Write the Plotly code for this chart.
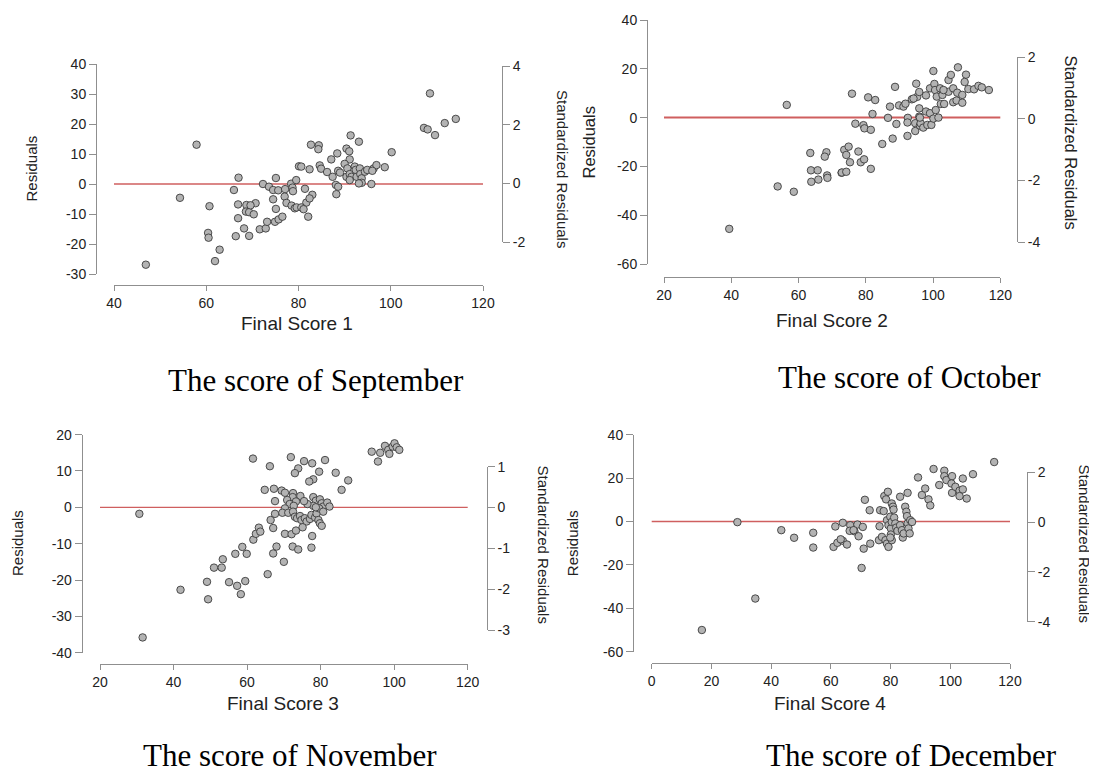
import plotly.graph_objects as go

# page body has an 8px margin: the figure is sized to fit and coordinates are shifted
PAGE_OFF = 8
W, H = 1097 - PAGE_OFF, 772 - PAGE_OFF

# ---------------- data ----------------
sep_x = [46.9, 57.9, 54.3, 60.7, 60.4, 60.5, 62.9, 61.9, 67.0, 66.0, 66.9, 66.9, 66.4, 68.2, 69.3,
         68.7, 68.6, 69.3, 70.7, 70.3, 69.6, 71.6, 72.9, 73.2, 72.3, 73.6, 74.5, 75.1, 74.5, 75.1,
         74.9, 75.7, 76.5, 75.6, 77.1, 77.0, 77.4, 78.5, 78.4, 78.7, 78.8, 79.2, 79.6, 79.5, 80.1,
         81.7, 82.1, 81.4, 80.6, 81.1, 83.0, 82.4, 80.6, 82.4, 82.7, 84.4, 84.3, 84.6, 84.9, 86.2,
         87.1, 87.4, 88.4, 88.6, 89.0, 88.1, 88.6, 88.2, 91.3, 90.4, 91.0, 91.1, 90.0, 90.6, 90.4,
         91.1, 91.5, 91.1, 92.2, 92.4, 92.6, 93.3, 93.4, 93.7, 93.7, 93.1, 94.4, 94.9, 95.8, 96.3,
         96.9, 96.0, 98.7, 93.1, 100.2, 107.2, 108.0, 108.5, 109.6, 111.7, 114.1]
sep_y = [-26.9, 13.1, -4.6, -7.4, -16.3, -17.9, -21.9, -25.7, 2.1, -2.0, -6.8, -11.4, -17.4, -14.8, -17.3,
         -7.0, -9.2, -9.4, -6.4, -10.1, -7.1, -15.1, -14.8, -12.6, 0.0, -0.9, -2.0, 2.0, -5.1, -8.3,
         -12.6, -11.8, -10.9, -2.1, -1.7, -4.2, -6.3, -7.2, 0.1, -1.2, -2.4, -8.1, -7.8, 1.3, 5.9,
         -6.2, -10.9, -1.6, -7.8, -8.4, -3.6, -4.8, 5.8, 4.9, 13.1, 12.9, 11.6, 6.2, 5.1, 4.0,
         8.2, 2.4, 10.2, 4.4, 3.8, -0.3, -0.9, -3.4, 16.2, 11.8, 10.9, 8.2, 6.7, 5.2, 2.4,
         3.3, 2.4, 1.3, 5.8, 4.7, 2.4, 5.2, 3.3, 1.9, 0.4, 0.2, 4.1, 4.7, 0.0, 5.2,
         6.3, 4.4, 5.6, 14.1, 10.6, 18.7, 18.2, 30.2, 16.3, 20.3, 21.7]

oct_x = [39.4, 56.5, 53.8, 58.6, 63.5, 63.7, 63.8, 65.7, 65.9, 68.3, 67.8, 68.5, 68.6, 72.8,
         73.6, 74.9, 74.2, 75.3, 72.9, 74.2, 75.9, 76.9, 77.8, 78.5, 79.5, 79.3, 79.6, 81.5, 80.7,
         82.8, 82.0, 81.5, 84.9, 86.6, 87.2, 88.0, 88.7, 89.1, 89.9, 91.2, 91.8, 92.4, 92.5, 92.4,
         93.7, 94.7, 94.7, 95.0, 95.3, 95.9, 95.9, 95.9, 96.1, 96.3, 97.1, 97.9, 97.9, 98.3, 99.1,
         99.1, 99.5, 100.1, 100.4, 100.6, 100.1, 100.8, 101.6, 101.1, 102.1, 102.8, 102.3, 103.3,
         104.6, 105.3, 104.6, 106.0, 106.0, 107.0, 107.2, 107.4, 108.7, 108.7, 109.8, 109.4, 110.5,
         112.2, 113.5, 114.5, 116.6, 103.1, 94.2, 96.1]
oct_y = [-45.6, 5.2, -28.2, -30.4, -14.5, -21.6, -26.3, -21.6, -25.4, -14.2, -16.0, -23.7, -24.7, -22.6,
         -13.2, -11.9, -15.3, -18.3, -22.5, -22.2, 9.8, -2.5, -13.9, -18.3, -17.1, -3.1, -4.4, -5.0, 8.3,
         7.2, 1.5, -21.0, -10.8, -0.1, 4.5, -8.6, 12.6, -2.6, 5.0, 4.5, 5.7, -7.5, -0.1, -2.0,
         7.5, -2.3, -5.5, 13.9, 8.5, 3.8, 10.5, 0.4, -3.3, -2.3, -4.1, 9.1, 2.5, -3.0, 12.0,
         1.8, -3.0, 19.1, 13.8, 11.3, -0.4, 3.1, 0.0, 8.6, 12.0, 9.3, 5.6, 5.6,
         15.4, 17.5, 10.6, 12.0, 6.3, 7.0, 10.2, 20.6, 9.3, 6.1, 17.6, 14.6, 11.7,
         11.6, 13.0, 12.4, 11.3, 11.3, 7.8, 0.0]

nov_x = [30.7, 31.6, 41.9, 49.1, 49.4, 51.0, 53.1, 53.4, 55.1, 56.8, 57.3, 58.3, 58.7, 59.5, 59.9,
         61.7, 62.4, 63.2, 63.6, 61.6, 64.8, 65.6, 66.2, 66.4, 67.1, 67.1, 67.3, 67.6, 67.6, 68.0,
         71.9, 75.5, 77.7, 81.2, 73.9, 73.0, 79.6, 84.1, 78.0, 76.9, 87.5, 85.7,
         69.4, 70.3, 72.5, 72.4, 74.5, 73.3, 70.9, 71.6, 72.7, 70.3, 69.6, 71.2, 72.5, 73.0, 73.6,
         74.4, 74.8, 75.7, 76.2, 77.1, 77.5, 78.5, 78.9, 79.4, 79.8, 80.3, 78.0, 78.7, 79.8, 80.3,
         80.7, 79.6, 78.0, 76.4, 75.5, 81.8, 82.4, 80.7, 78.7,
         70.3, 72.1, 73.3, 75.1, 72.4, 73.9, 77.5, 77.7, 70.0,
         93.9, 95.6, 96.2, 97.5, 98.4, 98.7, 99.6, 100.1, 100.7, 101.4]
nov_y = [-1.8, -35.8, -22.7, -20.5, -25.3, -16.6, -16.6, -14.3, -20.6, -12.8, -21.6, -23.9, -10.9, -20.3, -12.8,
         -8.9, -7.3, -5.6, -6.7, 13.4, 4.8, -18.4, 11.3, -3.5, -5.7, -12.7, 5.1, 1.7, -1.8, -10.8,
         13.8, 12.7, 12.1, 13.0, 10.7, 9.4, 9.8, 9.5, 7.7, 7.1, 7.4, 4.8,
         4.6, 4.0, 3.9, 2.8, 3.1, 1.6, 2.0, 0.9, 0.4, -0.3, -1.5, -1.5, -1.2, -2.6, -3.0,
         -2.4, -3.5, -3.0, -3.9, -3.2, -2.1, -2.8, -1.7, -3.5, -4.4, -5.1, 2.8, 1.8, 2.2, 1.1,
         0.2, -0.3, 0.4, 0.9, 1.7, 1.3, 0.2, -1.2, 0.0,
         -7.3, -7.4, -6.4, -5.5, -10.8, -11.6, -11.1, -7.9, -15.0,
         15.3, 12.6, 15.0, 16.9, 15.8, 14.7, 16.7, 17.6, 16.5, 15.8]

dec_x = [16.8, 28.7, 34.7, 43.4, 47.7, 54.1, 54.1,
         61.5, 60.9, 62.2, 64.0, 65.4, 64.0, 66.5, 66.3, 67.9, 68.9, 69.3, 70.7, 71.0, 70.3, 67.6, 63.3,
         71.4, 73.0, 73.2, 76.1, 76.3, 76.5, 77.1, 77.7, 77.9, 78.5, 79.1, 78.3, 78.8, 79.3,
         78.8, 79.3, 79.9, 80.1, 80.4, 80.1, 80.4, 79.9, 80.4, 80.8, 81.0, 81.2, 81.6, 81.9, 82.3,
         83.2, 83.8, 84.1, 84.4, 84.9, 85.3, 85.5, 85.7, 86.0, 86.4, 86.6, 87.2, 83.2, 85.7,
         89.2, 90.5, 91.6, 92.7, 93.3, 94.4, 96.3, 98.0, 98.0, 98.7, 100.6, 100.4, 100.6, 101.7,
         103.1, 103.1, 104.2, 104.2, 105.5, 107.6, 114.7]
dec_y = [-50.0, -0.3, -35.5, -4.0, -7.5, -5.2, -12.0,
         -2.3, -11.7, -9.8, -8.9, -10.6, -0.6, -1.7, -4.3, -4.5, -1.4, -6.8, -2.5, -12.5, -21.4, -4.0, -8.2,
         10.0, 5.2, -10.2, -8.6, -2.2, 5.2, -7.1, 4.8, 11.7, 10.2, 13.7, -8.6, -10.2, -11.7,
         0.6, -1.7, 2.2, -3.2, -0.2, -6.0, -8.6, -7.4, 8.3, 6.8, 5.5, 1.8, -0.9, -2.8, -4.3,
         -1.7, -4.0, -7.4, -5.5, 6.8, 4.5, 2.5, -0.9, -3.2, -5.5, 0.6, -0.2, 11.4, 13.2,
         20.3, 12.2, 15.2, 10.2, 7.4, 24.2, 16.8, 23.4, 20.9, 19.1, 20.9, 17.5, 13.2, 16.0,
         14.2, 11.7, 19.8, 14.8, 10.6, 21.8, 27.4]

# tick values / labels
sep_xticks = [40, 60, 80, 100, 120]
sep_yticks = [-30, -20, -10, 0, 10, 20, 30, 40]
sep_rticks = [-2, 0, 2, 4]
oct_xticks = [20, 40, 60, 80, 100, 120]
oct_yticks = [-60, -40, -20, 0, 20, 40]
oct_rticks = [-4, -2, 0, 2]
nov_xticks = [20, 40, 60, 80, 100, 120]
nov_yticks = [-40, -30, -20, -10, 0, 10, 20]
nov_rticks = [-3, -2, -1, 0, 1]
dec_xticks = [0, 20, 40, 60, 80, 100, 120]
dec_yticks = [-60, -40, -20, 0, 20, 40]
dec_rticks = [-4, -2, 0, 2]

x_titles = ["Final Score 1", "Final Score 2", "Final Score 3", "Final Score 4"]
captions = ["The score of September", "The score of October",
            "The score of November", "The score of December"]

# ---------------- layout geometry (window pixels) ----------------
panels = [
    dict(x=sep_x, y=sep_y, xt=sep_xticks, yt=sep_yticks, rt=sep_rticks,
         xpx=(114, 483), ypx=(274, 64), xaxis_py=285, yaxis_px=96,
         rpx=(242, 66), raxis_px=502,
         ytitle=(31, 168.5), rtitle=(563, 169), xtitle=(297, 323), cap=(316, 380),
         tfs=15, line_w=1.3),
    dict(x=oct_x, y=oct_y, xt=oct_xticks, yt=oct_yticks, rt=oct_rticks,
         xpx=(664, 1000.3), ypx=(264, 20), xaxis_py=276.7, yaxis_px=647,
         rpx=(242, 57.3), raxis_px=1017,
         ytitle=(588, 142.5), rtitle=(1071, 142.5), xtitle=(832, 320), cap=(909, 378),
         tfs=16.5, line_w=2),
    dict(x=nov_x, y=nov_y, xt=nov_xticks, yt=nov_yticks, rt=nov_rticks,
         xpx=(100, 467.7), ypx=(652.7, 434.6), xaxis_py=664, yaxis_px=81.7,
         rpx=(630, 466.7), raxis_px=486.7,
         ytitle=(17.5, 543.5), rtitle=(543.5, 544), xtitle=(283, 703), cap=(290, 755),
         tfs=15, line_w=1.3),
    dict(x=dec_x, y=dec_y, xt=dec_xticks, yt=dec_yticks, rt=dec_rticks,
         xpx=(651.7, 1010), ypx=(651.7, 434.7), xaxis_py=663.3, yaxis_px=633,
         rpx=(621.7, 472.3), raxis_px=1027,
         ytitle=(572, 543.2), rtitle=(1084, 543.5), xtitle=(830, 703), cap=(911, 755),
         tfs=15, line_w=1.3),
]

def fx(px):
    return (px - PAGE_OFF) / W

def fy(py):
    return 1 - (py - PAGE_OFF) / H

AX_COLOR = "#8f8f8f"
TXT = "#222222"
SANS = "Liberation Sans, Arial, Helvetica, sans-serif"
SERIF = "Liberation Serif, Times New Roman, serif"
tickfont = dict(family=SANS, size=14, color=TXT)

def axis_common(vals):
    return dict(range=[vals[0], vals[-1]], anchor="free", tickvals=vals,
                ticktext=[str(v) for v in vals], ticks="outside", tickcolor=AX_COLOR,
                showline=True, linecolor=AX_COLOR, linewidth=1,
                showgrid=False, zeroline=False, tickfont=tickfont, fixedrange=True)

fig = go.Figure()
layout = dict(width=W, height=H, margin=dict(l=0, r=0, t=0, b=0, autoexpand=False),
              paper_bgcolor="white", plot_bgcolor="rgba(0,0,0,0)", showlegend=False,
              shapes=[], annotations=[])

for i, p in enumerate(panels):
    n = i + 1
    xname = "x" if n == 1 else f"x{n}"
    yname = "y" if n == 1 else f"y{n}"
    rname = f"y{n + 4}"
    xkey = "xaxis" if n == 1 else f"xaxis{n}"
    ykey = "yaxis" if n == 1 else f"yaxis{n}"
    rkey = f"yaxis{n + 4}"

    layout[xkey] = dict(axis_common(p["xt"]),
                        domain=[fx(p["xpx"][0]), fx(p["xpx"][1])],
                        position=fy(p["xaxis_py"]), ticklen=5)
    layout[ykey] = dict(axis_common(p["yt"]),
                        domain=[fy(p["ypx"][0]), fy(p["ypx"][1])],
                        position=fx(p["yaxis_px"]), ticklen=7)
    layout[rkey] = dict(axis_common(p["rt"]),
                        domain=[fy(p["rpx"][0]), fy(p["rpx"][1])],
                        position=fx(p["raxis_px"]), side="right", ticklen=7)

    # residual points
    fig.add_trace(go.Scatter(x=p["x"], y=p["y"], mode="markers", xaxis=xname, yaxis=yname,
                             marker=dict(size=7.5, color="#b3b3b3",
                                         line=dict(color="#3c3c3c", width=0.9)),
                             hoverinfo="x+y"))
    # holder trace so the standardized-residual axis is drawn
    fig.add_trace(go.Scatter(x=[None], y=[None], mode="markers", xaxis=xname, yaxis=rname,
                             hoverinfo="skip", showlegend=False))

    # zero reference line
    layout["shapes"].append(dict(type="line", xref=f"{xname} domain", x0=0, x1=1,
                                 yref=yname, y0=0, y1=0, layer="below",
                                 line=dict(color="#cf5f5f", width=p["line_w"])))

    # titles
    layout["annotations"] += [
        dict(text="Residuals", x=fx(p["ytitle"][0]), y=fy(p["ytitle"][1]), xref="paper",
             yref="paper", showarrow=False, textangle=-90, xanchor="center", yanchor="middle",
             font=dict(family=SANS, size=p["tfs"], color=TXT)),
        dict(text="Standardized Residuals", x=fx(p["rtitle"][0]), y=fy(p["rtitle"][1]),
             xref="paper", yref="paper", showarrow=False, textangle=90,
             xanchor="center", yanchor="middle",
             font=dict(family=SANS, size=p["tfs"], color=TXT)),
        dict(text=x_titles[i], x=fx(p["xtitle"][0]), y=fy(p["xtitle"][1]), xref="paper",
             yref="paper", showarrow=False, xanchor="center", yanchor="middle",
             font=dict(family=SANS, size=19, color=TXT)),
        dict(text=captions[i], x=fx(p["cap"][0]), y=fy(p["cap"][1]), xref="paper",
             yref="paper", showarrow=False, xanchor="center", yanchor="middle",
             font=dict(family=SERIF, size=31, color="black")),
    ]

fig.update_layout(**layout)
fig.write_html("out.html")
